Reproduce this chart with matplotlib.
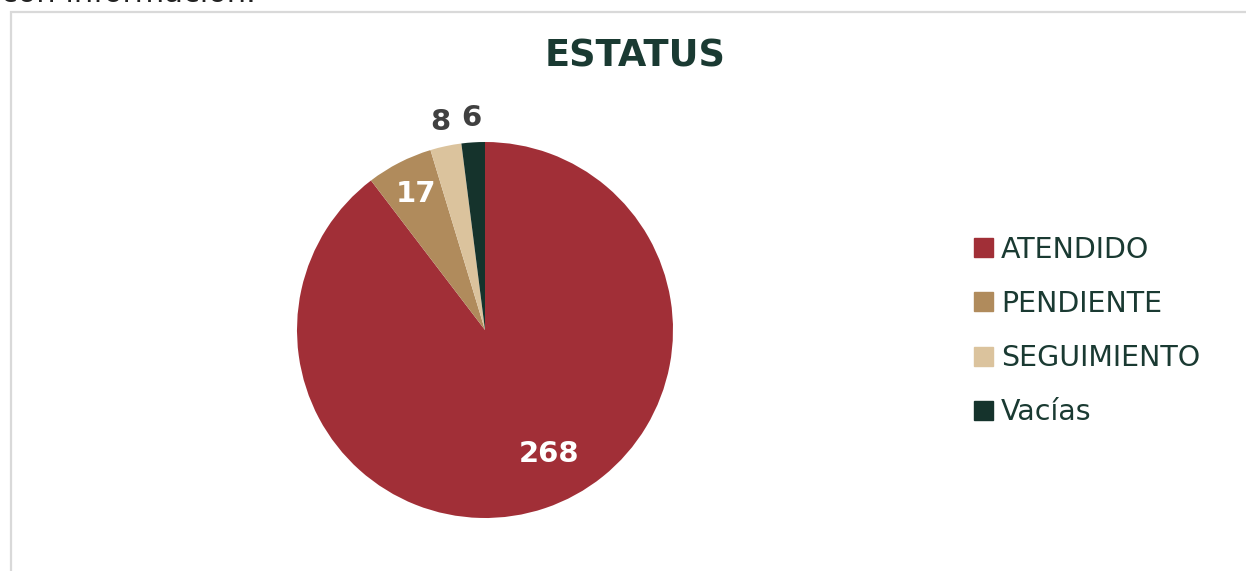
import matplotlib
matplotlib.use("Agg")
import matplotlib.pyplot as plt
import matplotlib.patches as mpatches
import numpy as np

categories = ["ATENDIDO", "PENDIENTE", "SEGUIMIENTO", "Vacías"]
values = [268, 17, 8, 6]
colors = ["#A12F37", "#B08B5C", "#DBC39D", "#15332C"]
title = "ESTATUS"

W, H = 1246, 571
fig = plt.figure(figsize=(W / 100, H / 100), dpi=100)
fig.patch.set_facecolor("white")

# border of chart area (continues past the right and bottom edges)
border = mpatches.Rectangle((11 / W, -0.05), 1.1, 1.05 - 12 / H, transform=fig.transFigure,
                            fill=False, edgecolor="#D9D9D9", linewidth=1.6, clip_on=False)
fig.patches.append(border)

# partial text above chart
fig.text(1 / W, 1 - 2 / H, "con información.", fontsize=22, color="#222222",
         ha="left", va="baseline", family="DejaVu Sans")

cx, cy, r = 485, 571 - 330, 188
ax = fig.add_axes([(cx - r) / W, (cy - r) / H, 2 * r / W, 2 * r / H])
wedges, _ = ax.pie(values, colors=colors, startangle=90, counterclock=False,
                   radius=1.0, wedgeprops=dict(linewidth=0))
ax.set_xlim(-1, 1)
ax.set_ylim(-1, 1)
ax.set_aspect("equal")
ax.axis("off")

dist = [0.74, 0.81, 1.13, 1.13]
nudge = [8.5, 0, 0, 0]
tcolor = ["white", "white", "#404040", "#404040"]
for w, v, d, n, c in zip(wedges, values, dist, nudge, tcolor):
    ang = np.deg2rad((w.theta1 + w.theta2) / 2 + n)
    ax.text(d * np.cos(ang), d * np.sin(ang), str(v), ha="center", va="center",
            fontsize=21, fontweight="bold", color=c, clip_on=False)

fig.text(635 / W, 1 - 56 / H, title, ha="center", va="center", fontsize=26.5,
         fontweight="bold", color="#1A3A32")

handles = [mpatches.Patch(color=c) for c in colors]
leg = fig.legend(handles, categories, loc="center left",
                 bbox_to_anchor=(974 / W, 1 - 331 / H), frameon=False,
                 fontsize=20.5, labelcolor="#1A3A32", handlelength=0.65, handleheight=0.65,
                 handletextpad=0.3, labelspacing=0.92, borderpad=0, borderaxespad=0)

fig.savefig("out.png", dpi=100, facecolor="white")
